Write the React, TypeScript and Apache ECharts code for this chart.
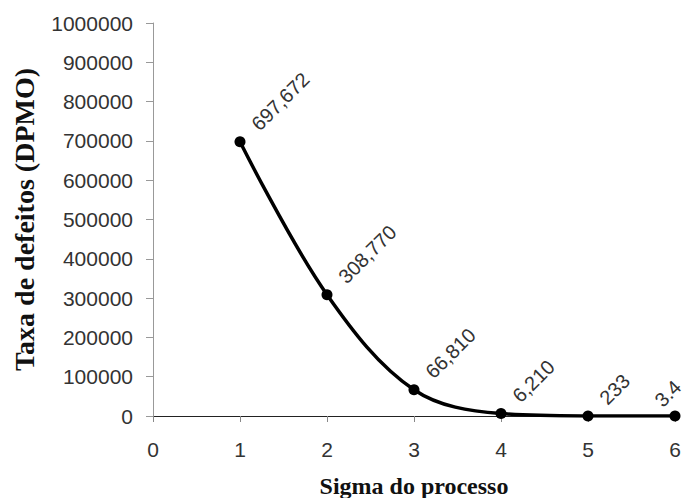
import React, { useEffect, useRef } from "react";
import * as echarts from "echarts";

const sigma = [1, 2, 3, 4, 5, 6];
const dpmo = [697672, 308770, 66810, 6210, 233, 3.4];
const pointLabels = ["697,672", "308,770", "66,810", "6,210", "233", "3.4"];

export default function App() {
  const ref = useRef<HTMLDivElement>(null);
  useEffect(() => {
    if (!ref.current) return;
    const chart = echarts.init(ref.current, undefined, { renderer: "svg" });
    chart.setOption({
      animation: false,
      backgroundColor: "#ffffff",
      grid: { left: 153, right: 12, top: 23, bottom: 82, containLabel: false, outerBoundsMode: "none" },
      xAxis: {
        type: "value",
        min: 0,
        max: 6,
        interval: 1,
        name: "Sigma do processo",
        nameLocation: "middle",
        nameGap: 58,
        nameTextStyle: {
          fontFamily: "Liberation Serif",
          fontWeight: "bold",
          fontSize: 24,
          color: "#111",
        },
        axisLine: { lineStyle: { color: "#222", width: 1 } },
        axisTick: { show: true, length: 6, lineStyle: { color: "#888" } },
        axisLabel: {
          fontFamily: "Liberation Sans",
          fontSize: 21,
          color: "#333",
          margin: 23,
        },
        splitLine: { show: false },
      },
      yAxis: {
        type: "value",
        min: 0,
        max: 1000000,
        interval: 100000,
        name: "Taxa de defeitos (DPMO)",
        nameLocation: "middle",
        nameGap: 115,
        nameTextStyle: {
          fontFamily: "Liberation Serif",
          fontWeight: "bold",
          fontSize: 28,
          color: "#111",
        },
        axisLine: { show: true, lineStyle: { color: "#999", width: 1 } },
        axisTick: { show: true, length: 7, lineStyle: { color: "#999" } },
        axisLabel: {
          fontFamily: "Liberation Sans",
          fontSize: 21,
          color: "#333",
          margin: 20,
          formatter: (v: number) => String(v),
        },
        splitLine: { show: false },
      },
      series: [
        {
          type: "line",
          data: sigma.map((s, i) =>
            i === sigma.length - 1
              ? { value: [s, dpmo[i]], label: { offset: [-9, -17] } }
              : { value: [s, dpmo[i]] }
          ),
          smooth: 0.35,
          symbol: "circle",
          symbolSize: 11,
          itemStyle: { color: "#000" },
          lineStyle: { color: "#000", width: 3.5 },
          label: {
            show: true,
            position: "right",
            distance: 3,
            rotate: 45,
            align: "left",
            verticalAlign: "bottom",
            offset: [15, 4],
            fontFamily: "Liberation Sans",
            fontSize: 20,
            color: "#333",
            formatter: (p: any) => pointLabels[p.dataIndex],
          },
        },
      ],
    });
    return () => chart.dispose();
  }, []);
  return <div ref={ref} style={{ width: 687, height: 498, position: "absolute", left: 0, top: 0 }} />;
}
